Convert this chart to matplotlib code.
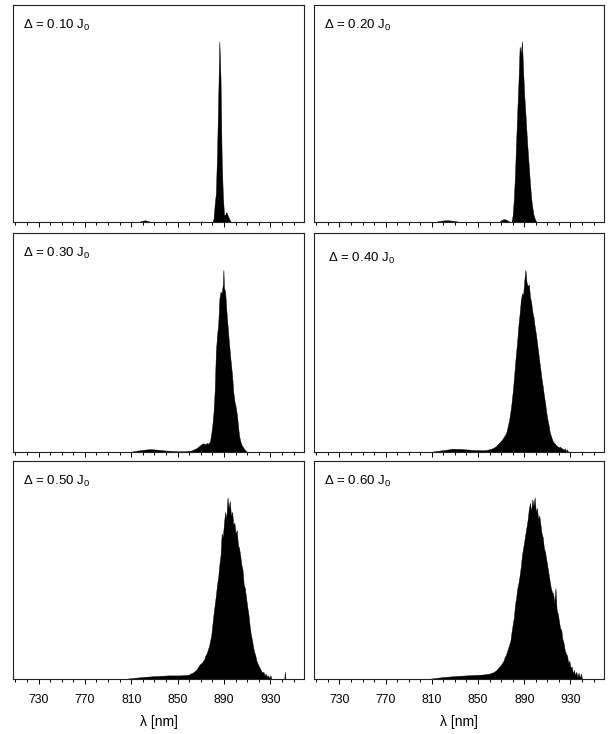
import numpy as np
import matplotlib
matplotlib.use('Agg')
import matplotlib.pyplot as plt
from matplotlib.ticker import MultipleLocator

plt.rcParams['font.family'] = ['Liberation Sans', 'DejaVu Sans']
plt.rcParams['mathtext.fontset'] = 'custom'
plt.rcParams['mathtext.rm'] = 'Liberation Sans'
plt.rcParams['mathtext.it'] = 'Liberation Sans'

# Panel labels (disorder strength)
labels = ['0.10', '0.20', '0.30', '0.40', '0.50', '0.60']

# Spectra: wavelength [nm] and intensity (peak = 1)
lam_010 = [816, 819, 822, 825, 828, 869, 870.5, 872,
           880, 881, 882, 883, 884, 885, 886, 887, 888, 889, 890, 891, 892, 893, 894, 895, 896]
I_010 = [0, 0.006, 0.01, 0.004, 0, 0, 0.004, 0,
         0, 0.02, 0.10, 0.16, 0.38, 0.68, 1.00, 0.80, 0.35, 0.15, 0.04, 0.04, 0.055, 0.04, 0.025, 0.01, 0]

lam_020 = [812, 816, 820, 824, 828, 832, 836, 868, 870, 872, 874, 876, 878,
           879, 880, 881, 882, 883, 884, 885, 886, 887, 888, 889, 890, 891, 892, 893,
           894, 895, 896, 897, 898, 899, 900, 901]
I_020 = [0, 0.005, 0.009, 0.01, 0.007, 0.003, 0, 0, 0.01, 0.016, 0.014, 0.006, 0,
         0, 0.04, 0.13, 0.27, 0.45, 0.62, 0.78, 0.97, 0.93, 1.00, 0.84, 0.70, 0.60, 0.49, 0.39,
         0.30, 0.21, 0.13, 0.08, 0.04, 0.02, 0.005, 0]

lam_030 = [808, 814, 820, 826, 832, 838, 844, 850, 856, 862, 866, 868,
           869, 870, 871, 872, 873, 874, 875, 876, 877, 878, 879, 880, 881, 882, 883, 884,
           885, 886, 887, 888, 889, 889.5, 890, 891, 892, 893, 894, 895, 896, 897, 898,
           899, 900, 901, 902, 903, 904, 905, 906, 907, 908, 910]
I_030 = [0, 0.006, 0.012, 0.016, 0.013, 0.009, 0.006, 0.004, 0.004, 0.008, 0.02, 0.03,
         0.035, 0.04, 0.045, 0.048, 0.045, 0.042, 0.05, 0.045, 0.05, 0.06, 0.10, 0.15, 0.22, 0.34, 0.55, 0.64,
         0.70, 0.84, 0.88, 0.87, 0.92, 1.00, 0.90, 0.88, 0.78, 0.70, 0.62, 0.55, 0.48, 0.42, 0.33,
         0.28, 0.25, 0.21, 0.15, 0.09, 0.06, 0.04, 0.03, 0.02, 0.012, 0]

lam_040 = [808, 815, 822, 828, 834, 840, 846, 852, 856, 860, 863, 865, 867, 869, 871, 873,
           874, 875, 876, 877, 878, 879, 880, 881, 882, 883, 884, 885, 886, 887, 888, 889,
           890, 891, 892, 893, 894, 895, 896, 897, 898, 899, 900, 901, 902, 903, 904, 905,
           906, 907, 908, 909, 910, 911, 912, 913, 914, 915, 916, 917, 918, 919, 920, 921,
           922, 923, 924, 925, 926, 927, 928]
I_040 = [0, 0.006, 0.012, 0.018, 0.017, 0.014, 0.011, 0.01, 0.01, 0.015, 0.022, 0.03, 0.042, 0.055, 0.07, 0.09,
         0.10, 0.12, 0.15, 0.18, 0.22, 0.27, 0.33, 0.40, 0.48, 0.55, 0.62, 0.70, 0.76, 0.83, 0.87, 0.86,
         0.94, 1.00, 0.93, 0.91, 0.92, 0.85, 0.82, 0.77, 0.74, 0.69, 0.65, 0.60, 0.55, 0.50, 0.45, 0.40,
         0.36, 0.31, 0.27, 0.22, 0.18, 0.15, 0.11, 0.09, 0.07, 0.055, 0.05, 0.04, 0.035, 0.03, 0.025, 0.03,
         0.02, 0.02, 0.012, 0.02, 0.005, 0.015, 0]

lam_050 = [800, 806, 812, 818, 824, 830, 836, 842, 848, 852, 856, 858,
           860, 861, 862, 863, 864, 865, 866, 867, 868, 869, 870, 871, 872, 873, 874, 875,
           876, 877, 878, 879, 880, 881, 882, 883, 884, 885, 886, 887, 888, 889, 890, 891,
           892, 893, 894, 895, 896, 897, 898, 899, 900, 901, 902, 903, 904, 905, 906, 907,
           908, 909, 910, 911, 912, 913, 914, 915, 916, 917, 918, 919, 920, 921, 922, 923,
           924, 925, 926, 927, 928, 929, 930, 931, 942, 942.5, 943]
I_050 = [0, 0.002, 0.006, 0.01, 0.013, 0.016, 0.018, 0.02, 0.02, 0.02, 0.022, 0.022,
         0.025, 0.03, 0.032, 0.035, 0.04, 0.045, 0.05, 0.06, 0.07, 0.08, 0.085, 0.09, 0.10, 0.11, 0.13, 0.14,
         0.16, 0.18, 0.21, 0.24, 0.30, 0.36, 0.41, 0.46, 0.52, 0.56, 0.63, 0.68, 0.80, 0.78, 0.86, 0.92,
         0.88, 1.00, 0.94, 0.98, 0.90, 0.92, 0.85, 0.86, 0.80, 0.82, 0.74, 0.72, 0.68, 0.63, 0.60, 0.52,
         0.50, 0.45, 0.40, 0.36, 0.30, 0.25, 0.22, 0.18, 0.15, 0.13, 0.10, 0.085, 0.07, 0.06, 0.045, 0.035,
         0.04, 0.02, 0.03, 0.012, 0.02, 0.005, 0.02, 0, 0, 0.04, 0]

lam_060 = [805, 810, 816, 822, 828, 834, 840, 846, 852, 856, 860, 862, 864, 866, 868, 870,
           871, 872, 873, 874, 875, 876, 877, 878, 879, 880, 881, 882, 883, 884, 885, 886,
           887, 888, 889, 890, 891, 892, 893, 894, 895, 896, 897, 898, 899, 900, 901, 902,
           903, 904, 905, 906, 907, 908, 909, 910, 911, 912, 913, 914, 915, 916, 917, 918,
           919, 920, 921, 922, 923, 924, 925, 926, 927, 928, 929, 930, 931, 932, 933, 934,
           935, 936, 937, 938, 939, 940]
I_060 = [0, 0.003, 0.008, 0.012, 0.015, 0.018, 0.02, 0.022, 0.024, 0.026, 0.03, 0.035, 0.04, 0.05, 0.065, 0.08,
         0.09, 0.10, 0.12, 0.13, 0.15, 0.17, 0.19, 0.21, 0.26, 0.30, 0.34, 0.41, 0.45, 0.50, 0.53, 0.57,
         0.62, 0.68, 0.72, 0.76, 0.80, 0.84, 0.88, 0.94, 0.97, 0.92, 0.99, 0.95, 1.00, 0.92, 0.94, 0.88,
         0.90, 0.85, 0.80, 0.78, 0.72, 0.70, 0.66, 0.62, 0.58, 0.54, 0.50, 0.48, 0.47, 0.42, 0.50, 0.38,
         0.36, 0.32, 0.28, 0.27, 0.22, 0.20, 0.16, 0.14, 0.13, 0.09, 0.10, 0.06, 0.07, 0.03, 0.05, 0.02,
         0.04, 0.01, 0.035, 0.005, 0.03, 0]

spectra = [(lam_010, I_010), (lam_020, I_020), (lam_030, I_030),
           (lam_040, I_040), (lam_050, I_050), (lam_060, I_060)]

fig = plt.figure(figsize=(6.13, 7.34), dpi=100)

# axes boxes in figure fractions (left col / right col, three rows)
col_x = [0.0212, 0.5122]
col_w = [0.4747, 0.4731]
row_y = [0.6975, 0.3842, 0.0749]
row_h = [0.2956, 0.2980, 0.2970]

for k, (lam, inten) in enumerate(spectra):
    r, c = k // 2, k % 2
    ax = fig.add_axes([col_x[c], row_y[r], col_w[c], row_h[r]])
    ax.fill_between(np.array(lam), np.array(inten), 0, color='black', lw=0.3, edgecolor='black')
    ax.set_xlim(708, 959)
    ax.set_ylim(0, 1.2)
    ax.set_yticks([])
    ax.set_xticks([730, 770, 810, 850, 890, 930])
    ax.xaxis.set_minor_locator(MultipleLocator(10))
    ax.tick_params(axis='x', which='major', direction='out', length=3.6, width=0.7,
                   pad=7, labelsize=8.8)
    ax.tick_params(axis='x', which='minor', direction='out', length=2.0, width=0.7)
    for s in ax.spines.values():
        s.set_linewidth(0.8)
        s.set_color('#222222')
    if r < 2:
        ax.tick_params(axis='x', labelbottom=False)
    else:
        ax.set_xlabel(r'λ [nm]', fontsize=10, labelpad=7)
    tx, ty = (0.048, 0.886) if k == 3 else (0.035, 0.908)
    ax.text(tx, ty, 'Δ = ' + labels[k] + r' J$_0$', transform=ax.transAxes,
            fontsize=9.5, va='center', ha='left')

plt.savefig('out.png', dpi=100)
